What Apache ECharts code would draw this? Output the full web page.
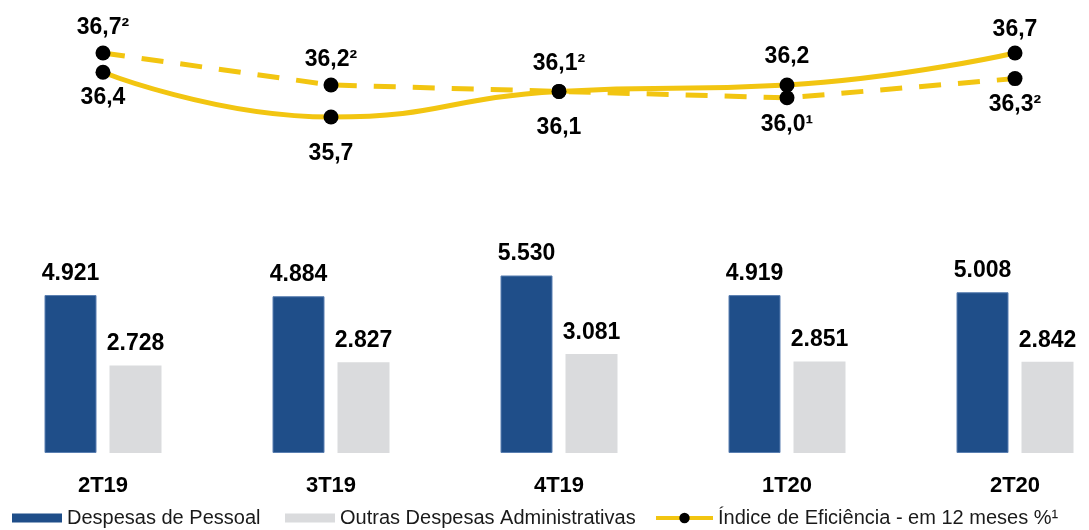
<!DOCTYPE html>
<html>
<head>
<meta charset="utf-8">
<script src="https://cdn.jsdelivr.net/npm/echarts@6/dist/echarts.min.js"></script>
<style>html,body{margin:0;padding:0;background:#fff;}#c{width:1089px;height:530px;}</style>
</head>
<body>
<div id="c"></div>
<script>
const categories = ['2T19', '3T19', '4T19', '1T20', '2T20'];
const despesasPessoal = [4921, 4884, 5530, 4919, 5008];
const outrasDespesas = [2728, 2827, 3081, 2851, 2842];
const indiceSolid = [36.4, 35.7, 36.1, 36.2, 36.7];
const indiceDashed = [36.7, 36.2, 36.1, 36.0, 36.3];
const dashedNotes = ['²', '²', '²', '¹', '²'];

const FONT = '"Liberation Sans", Arial, sans-serif';
const YELLOW = '#F2C511';
const BLUE = '#1F4E89';
const GRAY = '#DADBDD';

const solidLabelPos = ['bottom', 'bottom', 'bottom', 'top', 'top'];
const solidLabelDist = [6, 18, 17, 9, 4];
const dashedLabelPos = ['top', 'top', 'top', 'bottom', 'bottom'];
const dashedLabelDist = [6, 6, 9, 8, 7];

const fmtComma = v => v.toFixed(1).replace('.', ',');
const fmtThousand = v => String(v).replace(/\B(?=(\d{3})+(?!\d))/g, '.');

const chart = echarts.init(document.getElementById('c'), null, {renderer: 'canvas'});
const lineLabel = {show: true, color: '#000', fontSize: 23, fontWeight: 'bold', fontFamily: FONT};
const legendText = {fontSize: 20, color: '#1a1a1a', fontFamily: FONT};

const option = {
  animation: false,
  textStyle: {fontFamily: FONT},
  grid: [
    {left: -11, width: 1140, top: 33.8, height: 128, outerBoundsMode: 'none', containLabel: false},
    {left: -11, width: 1140, bottom: 77, height: 224.7, outerBoundsMode: 'none', containLabel: false}
  ],
  xAxis: [
    {gridIndex: 0, type: 'category', data: categories, show: false},
    {gridIndex: 1, type: 'category', data: categories,
     axisLine: {show: false}, axisTick: {show: false},
     axisLabel: {color: '#000', fontSize: 22, fontWeight: 'bold', fontFamily: FONT, margin: 22}}
  ],
  yAxis: [
    {gridIndex: 0, type: 'value', min: 35, max: 37, show: false},
    {gridIndex: 1, type: 'value', min: 0, max: 7000, show: false}
  ],
  legend: [
    {data: ['Despesas de Pessoal'], left: 12, top: 508, padding: 0, itemWidth: 50, itemHeight: 9, icon: 'rect',
     itemStyle: {borderWidth: 0}, textStyle: legendText},
    {data: ['Outras Despesas Administrativas'], left: 285, top: 508, padding: 0, itemWidth: 50, itemHeight: 9, icon: 'rect',
     itemStyle: {borderWidth: 0}, textStyle: legendText},
    {data: ['Índice de Eficiência - em 12 meses %¹'], left: 654, top: 508, padding: 0, itemWidth: 57, itemHeight: 13,
     lineStyle: {width: 4}, textStyle: legendText}
  ],
  series: [
    {
      name: 'Despesas de Pessoal', type: 'bar', xAxisIndex: 1, yAxisIndex: 1,
      data: despesasPessoal, barWidth: 52, barGap: '25%',
      itemStyle: {color: BLUE, borderColor: '#5a7fb1', borderWidth: 1},
      label: {show: true, position: 'top', distance: 10, color: '#000', fontSize: 23, fontWeight: 'bold',
              fontFamily: FONT, formatter: p => fmtThousand(p.value)}
    },
    {
      name: 'Outras Despesas Administrativas', type: 'bar', xAxisIndex: 1, yAxisIndex: 1,
      data: outrasDespesas, barWidth: 52, barGap: '25%',
      itemStyle: {color: GRAY},
      label: {show: true, position: 'top', distance: 10, color: '#000', fontSize: 23, fontWeight: 'bold',
              fontFamily: FONT, formatter: p => fmtThousand(p.value)}
    },
    {
      name: 'Índice de Eficiência (dashed)', type: 'line', xAxisIndex: 0, yAxisIndex: 0,
      data: indiceDashed.map((v, i) => ({value: v,
        label: Object.assign({}, lineLabel, {position: dashedLabelPos[i], distance: dashedLabelDist[i],
          formatter: fmtComma(v) + dashedNotes[i]})})),
      symbol: 'circle', symbolSize: 15, showAllSymbol: true,
      itemStyle: {color: '#000'},
      lineStyle: {color: YELLOW, width: 5, type: [22, 17]},
      z: 2
    },
    {
      name: 'Índice de Eficiência - em 12 meses %¹', type: 'line', xAxisIndex: 0, yAxisIndex: 0,
      data: indiceSolid.map((v, i) => ({value: v,
        label: Object.assign({}, lineLabel, {position: solidLabelPos[i], distance: solidLabelDist[i],
          formatter: fmtComma(v)})})),
      smooth: 0.5,
      symbol: 'circle', symbolSize: 15, showAllSymbol: true,
      itemStyle: {color: '#000'},
      lineStyle: {color: YELLOW, width: 5},
      z: 3
    }
  ]
};
chart.setOption(option);
</script>
</body>
</html>
